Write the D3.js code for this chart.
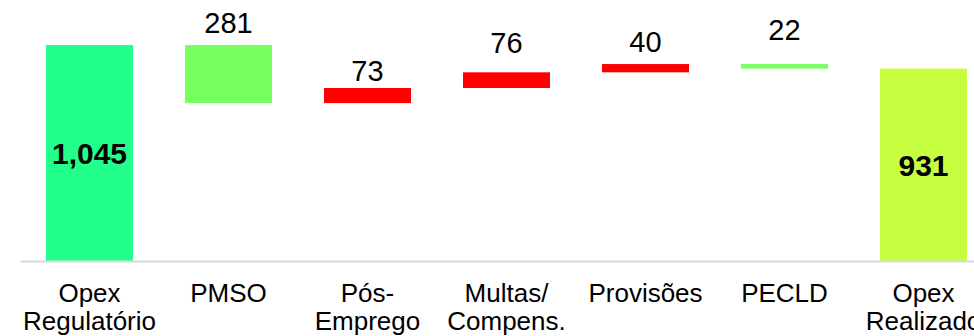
<!DOCTYPE html>
<html>
<head>
<meta charset="utf-8">
<script src="https://cdn.jsdelivr.net/npm/d3@7"></script>
<style>
  body { margin: 0; background: #fff; }
  svg { display: block; font-family: "Liberation Sans", Arial, sans-serif; }
</style>
</head>
<body>
<div id="chart"></div>
<script>
// categories (one entry per line of the tick label)
var categories = ["Opex Regulatório", "PMSO", "Pós-Emprego", "Multas/Compens.", "Provisões", "PECLD", "Opex Realizado"]
var tickLines = [["Opex", "Regulatório"], ["PMSO"], ["Pós-", "Emprego"], ["Multas/", "Compens."], ["Provisões"], ["PECLD"], ["Opex", "Realizado"]]
// first and last are totals, the rest are changes
var values = [1045, -281, 73, 76, 40, -22, 931]
var kinds = ["start", "delta", "delta", "delta", "delta", "delta", "end"]
var valueLabels = ["1,045", "281", "73", "76", "40", "22", "931"]

var width = 974, height = 336

var svg = d3.select("#chart")
  .append("svg")
  .attr("width", width)
  .attr("height", height)

// build the waterfall steps
var steps = []
var running = 0
values.forEach(function(v, i) {
  if (kinds[i] == "delta") {
    steps.push({cat: categories[i], lo: Math.min(running, running + v), hi: Math.max(running, running + v), v: v, kind: kinds[i], label: valueLabels[i]})
    running = running + v
  } else {
    running = v
    steps.push({cat: categories[i], lo: 0, hi: v, v: v, kind: kinds[i], label: valueLabels[i]})
  }
})

var x = d3.scaleBand()
  .domain(categories)
  .range([20, 993])
  .paddingInner(0.374)
  .paddingOuter(0.187)

var y = d3.scaleLinear()
  .domain([0, 1200])
  .range([261, 13])

function colorOf(d) {
  if (d.kind == "start") return "#22ff8a"
  if (d.kind == "end") return "#c7ff40"
  return d.v < 0 ? "#77ff60" : "#ff0000"
}

// bars
svg.append("g")
  .selectAll("rect")
  .data(steps)
  .enter()
  .append("rect")
    .attr("x", function(d) { return x(d.cat) })
    .attr("y", function(d) { return y(d.hi) })
    .attr("width", x.bandwidth())
    .attr("height", function(d) { return y(d.lo) - y(d.hi) })
    .attr("fill", colorOf)

// x axis, only the baseline and the labels
var axis = svg.append("g")
  .attr("transform", "translate(0,261)")
  .call(d3.axisBottom(x).tickSize(0).tickSizeOuter(0))
axis.select(".domain").attr("stroke", "#d9d9d9").attr("stroke-width", 2)
axis.selectAll(".tick text")
  .text(null)
  .attr("dy", null)
  .attr("y", 0)
  .attr("fill", "#000")
  .style("font-size", "26px")
  .style("font-family", "'Liberation Sans', Arial, sans-serif")
  .each(function(d) {
    var lines = tickLines[categories.indexOf(d)]
    var t = d3.select(this)
    lines.forEach(function(line, i) {
      t.append("tspan").attr("x", 0).attr("y", 41 + i * 28).text(line)
    })
  })

// labels above the change bars (small nudges as in the original)
var labelNudge = [0, 0, 5, -7, 0, -12, 0]
svg.append("g")
  .selectAll("text")
  .data(steps.filter(function(d) { return d.kind == "delta" }))
  .enter()
  .append("text")
    .attr("x", function(d) { return x(d.cat) + x.bandwidth() / 2 })
    .attr("y", function(d) { return y(d.hi) - 12 + labelNudge[categories.indexOf(d.cat)] })
    .attr("text-anchor", "middle")
    .style("font-size", "29px")
    .text(function(d) { return d.label })

// totals written inside the bars
svg.append("g")
  .selectAll("text")
  .data(steps.filter(function(d) { return d.kind != "delta" }))
  .enter()
  .append("text")
    .attr("x", function(d) { return x(d.cat) + x.bandwidth() / 2 })
    .attr("y", function(d) { return (y(d.lo) + y(d.hi)) / 2 })
    .attr("dy", "0.36em")
    .attr("text-anchor", "middle")
    .style("font-size", "30px")
    .style("font-weight", "bold")
    .text(function(d) { return d.label })
</script>
</body>
</html>
